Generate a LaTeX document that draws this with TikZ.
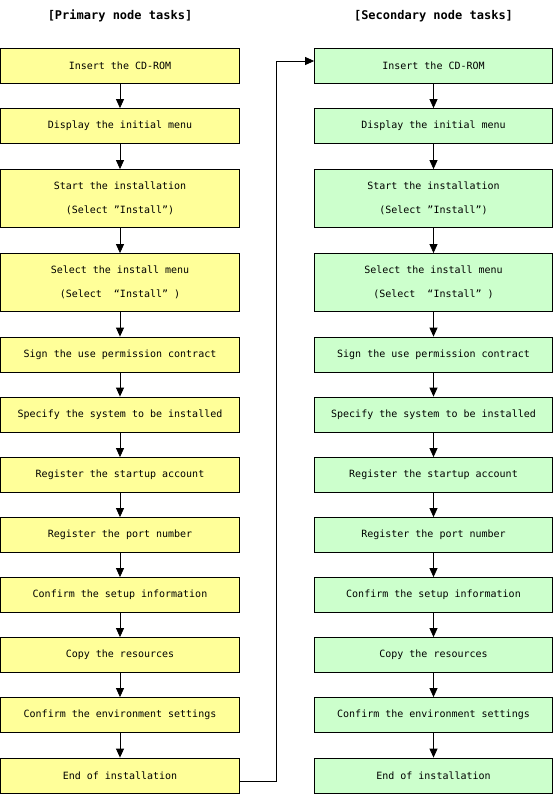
\documentclass[tikz,border=0pt]{standalone}
\usepackage{fontspec}
\setmonofont{DejaVu Sans Mono}
\usetikzlibrary{arrows.meta}

\definecolor{primfill}{RGB}{255,255,153}
\definecolor{secfill}{RGB}{204,255,204}

\begin{document}
\begin{tikzpicture}[x=1bp,y=-1bp,
    font=\ttfamily\fontsize{10bp}{24bp}\selectfont,
    task/.style={draw,line width=0.8pt,inner sep=0pt,minimum height=35bp,align=center},
    prim/.style={task,fill=primfill,minimum width=239bp},
    sec/.style={task,fill=secfill,minimum width=238bp},
    tall/.style={minimum height=58bp},
    flow/.style={-{Triangle[length=9bp,width=8bp]},line width=0.8pt},
    heading/.style={font=\ttfamily\bfseries\fontsize{12bp}{14bp}\selectfont}]
                \useasboundingbox (0,0) rectangle (555,794);

                % primary node
                \node[heading] (phead) at (120,16) {[Primary node tasks]};
                \node[prim] (pcd) at (120,66) {Insert the CD-ROM};
                \node[prim] (pmenu) at (120,126) {Display the initial menu};
                \node[prim,tall] (pstart) at (120,198.5) {Start the installation\\(Select ”Install”)};
                \node[prim,tall] (pselect) at (120,282.5) {Select the install menu\\(Select\ \ “Install”\ )};
                \node[prim] (psign) at (120,354.5) {Sign the use permission contract};
                \node[prim] (pspec) at (120,414.5) {Specify the system to be installed};
                \node[prim] (paccount) at (120,475) {Register the startup account};
                \node[prim] (pport) at (120,535) {Register the port number};
                \node[prim] (pconfirm) at (120,595) {Confirm the setup information};
                \node[prim] (pcopy) at (120,655) {Copy the resources};
                \node[prim] (penv) at (120,715) {Confirm the environment settings};
                \node[prim] (pend) at (120,775.5) {End of installation};

                % secondary node
                \node[heading] (shead) at (433.5,16) {[Secondary node tasks]};
                \node[sec] (scd) at (433.5,66) {Insert the CD-ROM};
                \node[sec] (smenu) at (433.5,126) {Display the initial menu};
                \node[sec,tall] (sstart) at (433.5,198.5) {Start the installation\\(Select ”Install”)};
                \node[sec,tall] (sselect) at (433.5,282.5) {Select the install menu\\(Select\ \ “Install”\ )};
                \node[sec] (ssign) at (433.5,354.5) {Sign the use permission contract};
                \node[sec] (sspec) at (433.5,414.5) {Specify the system to be installed};
                \node[sec] (saccount) at (433.5,475) {Register the startup account};
                \node[sec] (sport) at (433.5,535) {Register the port number};
                \node[sec] (sconfirm) at (433.5,595) {Confirm the setup information};
                \node[sec] (scopy) at (433.5,655) {Copy the resources};
                \node[sec] (senv) at (433.5,715) {Confirm the environment settings};
                \node[sec] (send) at (433.5,775.5) {End of installation};

                \draw[flow] (pcd) to (pmenu);
                \draw[flow] (pmenu) to (pstart);
                \draw[flow] (pstart) to (pselect);
                \draw[flow] (pselect) to (psign);
                \draw[flow] (psign) to (pspec);
                \draw[flow] (pspec) to (paccount);
                \draw[flow] (paccount) to (pport);
                \draw[flow] (pport) to (pconfirm);
                \draw[flow] (pconfirm) to (pcopy);
                \draw[flow] (pcopy) to (penv);
                \draw[flow] (penv) to (pend);

                \draw[flow] ([yshift=-6bp]pend.east) -- ++(36,0) |- ([yshift=5bp]scd.west);

                \draw[flow] (scd) to (smenu);
                \draw[flow] (smenu) to (sstart);
                \draw[flow] (sstart) to (sselect);
                \draw[flow] (sselect) to (ssign);
                \draw[flow] (ssign) to (sspec);
                \draw[flow] (sspec) to (saccount);
                \draw[flow] (saccount) to (sport);
                \draw[flow] (sport) to (sconfirm);
                \draw[flow] (sconfirm) to (scopy);
                \draw[flow] (scopy) to (senv);
                \draw[flow] (senv) to (send);
            \end{tikzpicture}
\end{document}
